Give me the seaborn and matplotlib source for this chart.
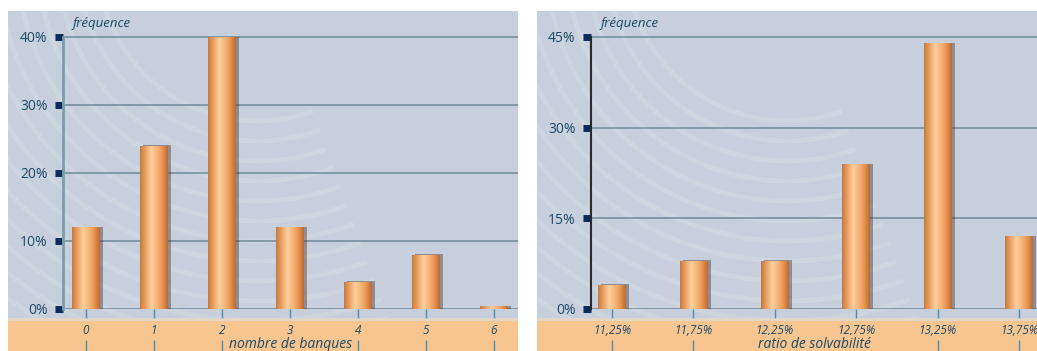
import numpy as np
import pandas as pd
import matplotlib
matplotlib.use("Agg")
import matplotlib.pyplot as plt
import seaborn as sns
from matplotlib.patches import Rectangle, Arc
from matplotlib.colors import LinearSegmentedColormap

# donnees
banques = ["0", "1", "2", "3", "4", "5", "6"]
freq_banques = [12, 24, 40, 12, 4, 8, 0.4]
ticks_banques = [0, 10, 20, 30, 40]

ratios = ["11,25%", "11,75%", "12,25%", "12,75%", "13,25%", "13,75%"]
freq_ratios = [4, 8, 8, 24, 44, 12]
ticks_ratios = [0, 15, 30, 45]

W, H = 1037, 351
sns.set_theme(style="white")
plt.rcParams["font.family"] = ["Open Sans", "DejaVu Sans"]

FOND = "#c6cfdb"
ORANGE = "#f6c590"
TEXTE = "#1d4a68"
CARRE = "#0b2b5a"
GRILLE = "#6b8494"
TEAL = "#4f91a8"

bar_cmap = LinearSegmentedColormap.from_list(
    "barre", ["#c47a40", "#eea264", "#fbcf9f", "#f6b679", "#ea9651", "#b96c36"])

fig = plt.figure(figsize=(W / 100, H / 100), dpi=100)


def px(x0, y0, x1, y1):
    # boite en pixels (origine en haut a gauche) -> fraction de figure
    return [x0 / W, 1 - y1 / H, (x1 - x0) / W, (y1 - y0) / H]


def fond(box):
    bg = fig.add_axes(px(*box), zorder=0)
    w, h = box[2] - box[0], box[3] - box[1]
    bg.set_xlim(0, w)
    bg.set_ylim(0, h)
    bg.add_patch(Rectangle((0, 0), w, h, color=FOND, lw=0))
    # reflets circulaires du fond
    for r in range(160, 470, 20):
        bg.add_patch(Arc((250, 390), 2 * r, 2 * r, theta1=185, theta2=290,
                         color="white", alpha=0.13, lw=3.5))
    bg.add_patch(Rectangle((0, 0), w, 351 - 318, color=ORANGE, lw=0))
    bg.add_patch(Rectangle((0, 351 - 321), w, 3, color="#e4d6c6", lw=0))
    bg.set_axis_off()
    return bg


def panneau(box, ax_box, cats, vals, ticks, xlabel, largeur, xlim, axe_col, axe_lw):
    fond(box)
    ax = fig.add_axes(px(*ax_box), zorder=1)
    ax.patch.set_alpha(0)
    haut_px = ax_box[3] - ax_box[1]
    # 0% a y=309 px, derniere graduation a y=37 px
    k = ticks[-1] / (309 - 37)
    ymax = haut_px * k

    df = pd.DataFrame({"cat": cats, "freq": vals})
    sns.barplot(data=df, x="cat", y="freq", order=cats, color="#f0a55c",
                saturation=1, width=largeur, ax=ax, edgecolor="none")

    # ombre + degrade cylindrique sur chaque barre
    for p in list(ax.patches):
        x, w, h = p.get_x(), p.get_width(), p.get_height()
        ax.add_patch(Rectangle((x + w * 0.12, -1.2 * k), w, h + 1.6 * k,
                               color="#4a3a40", alpha=0.45, lw=0, zorder=1.5))
        p.set_zorder(2)
        grad = np.linspace(0, 1, 64).reshape(1, -1)
        im = ax.imshow(grad, cmap=bar_cmap, aspect="auto",
                       extent=(x, x + w, 0, h), zorder=2.1)
        im.set_clip_path(p)

    ax.set_xlim(*xlim)
    ax.set_ylim(0, ymax)
    ax.set_yticks(ticks)
    ax.set_yticklabels([f"{t}%" for t in ticks])
    ax.yaxis.grid(True, color=GRILLE, lw=1.3, alpha=0.8)
    ax.set_axisbelow(True)
    for s in ["top", "right", "bottom"]:
        ax.spines[s].set_visible(False)
    ax.spines["left"].set_bounds(0, ticks[-1])
    ax.spines["left"].set_color(axe_col)
    ax.spines["left"].set_linewidth(axe_lw)

    ax.tick_params(axis="y", left=True, length=5.5, width=5, color=CARRE,
                   pad=5.5, labelsize=10, labelcolor=TEXTE)
    ax.tick_params(axis="x", bottom=True, length=6.5, width=1, color=TEAL,
                   pad=4, labelsize=8.5, labelcolor=TEXTE)
    for t in ax.get_xticklabels():
        t.set_fontstyle("italic")

    # petits traits sous les etiquettes (sous le titre de l'axe)
    ax.vlines(range(len(cats)), -42 * k, -31 * k, color=TEAL, lw=1,
              clip_on=False, zorder=0.1)

    ax.set_xlabel(xlabel, fontstyle="italic", fontsize=10, color=TEXTE,
                  bbox=dict(facecolor=ORANGE, edgecolor="none", pad=1.5))
    ax.xaxis.set_label_coords(0.5, -(337 - 309) / haut_px)
    ax.set_ylabel("")
    ax.text(10 / (ax_box[2] - ax_box[0]), (309 - 24) / haut_px, "fréquence",
            transform=ax.transAxes, fontstyle="italic", fontsize=9.5,
            color=TEXTE, va="center", ha="left")
    return ax


panneau((8, 11, 518, 351), (63, 11, 518, 309), banques, freq_banques,
        ticks_banques, "nombre de banques", 0.41, (-0.338, 6.353), "#7d9cab", 2)
panneau((537, 11, 1037, 351), (591, 11, 1037, 309), ratios, freq_ratios,
        ticks_ratios, "ratio de solvabilité", 0.34, (-0.258, 5.22), "#2b2b2b", 1.5)

fig.savefig("out.png", dpi=100)
